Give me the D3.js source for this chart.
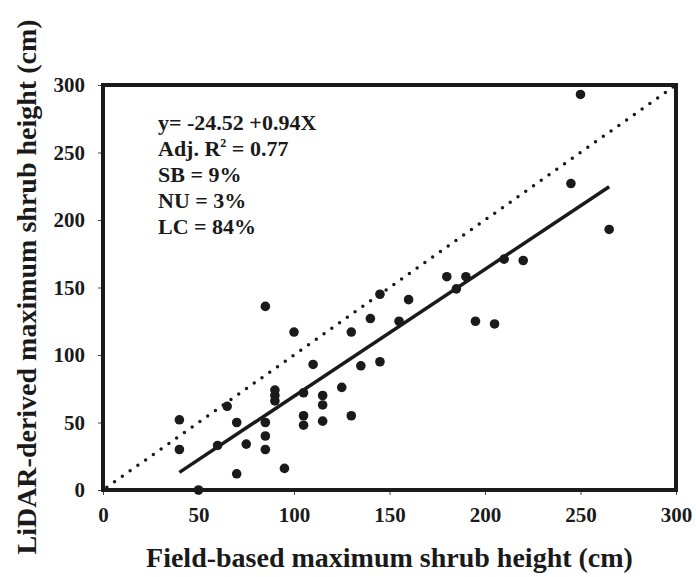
<!DOCTYPE html>
<html>
<head>
<meta charset="utf-8">
<script src="https://cdn.jsdelivr.net/npm/d3@7"></script>
<style>
  body { margin: 0; background: #fff; }
  text { font-family: "Liberation Serif", "DejaVu Serif", serif; font-weight: bold; fill: #1a1a1a; }
</style>
</head>
<body>
<svg id="chart"></svg>
<script>
// Field-based vs LiDAR-derived maximum shrub height (cm)
const fieldHeight = [50, 40, 40, 60, 65, 70, 70, 75, 85, 85, 85, 85, 90, 90, 90, 95,
  100, 105, 105, 105, 110, 115, 115, 115, 125, 130, 130, 135, 140, 145, 145,
  155, 160, 180, 185, 190, 195, 205, 210, 220, 245, 250, 265];
const lidarHeight = [0, 52, 30, 33, 62, 50, 12, 34, 136, 50, 40, 30, 74, 70, 66, 16,
  117, 72, 55, 48, 93, 70, 63, 51, 76, 117, 55, 92, 127, 145, 95,
  125, 141, 158, 149, 158, 125, 123, 171, 170, 227, 293, 193];

const xTicks = [0, 50, 100, 150, 200, 250, 300];
const yTicks = [0, 50, 100, 150, 200, 250, 300];

const fitIntercept = -24.52;
const fitSlope = 0.94;
const fitRange = [40, 265];

const statsLines = ["y= -24.52 +0.94X", "Adj. R|2| = 0.77", "SB = 9%", "NU = 3%", "LC = 84%"];

const W = 696, H = 577;
const margin = {left: 103, top: 85, right: 20, bottom: 87};
const iw = W - margin.left - margin.right;
const ih = H - margin.top - margin.bottom;

const svg = d3.select('#chart').attr('width', W).attr('height', H);
const g = svg.append('g').attr('transform', `translate(${margin.left},${margin.top})`);

const x = d3.scaleLinear().domain([0, 300]).range([0, iw]);
const y = d3.scaleLinear().domain([0, 300]).range([ih, 0]);

// axes
const xAxis = g.append('g')
    .attr('transform', `translate(0,${ih})`)
    .call(d3.axisBottom(x).tickValues(xTicks).tickSize(5).tickPadding(12));
const yAxis = g.append('g')
    .call(d3.axisLeft(y).tickValues(yTicks).tickSize(5).tickPadding(13));
[xAxis, yAxis].forEach(a => {
    a.select('.domain').remove();
    a.selectAll('.tick line').attr('stroke', '#444').attr('stroke-width', 1);
    a.selectAll('.tick text').style('font-size', '21px').attr('fill', '#1a1a1a');
});

// 1:1 line (dotted)
g.append('line')
    .attr('x1', x(2)).attr('y1', y(2))
    .attr('x2', x(300)).attr('y2', y(300))
    .attr('stroke', '#1a1a1a')
    .attr('stroke-width', 3.5)
    .attr('stroke-linecap', 'round')
    .attr('stroke-dasharray', '0,9.5');

// regression line
g.append('line')
    .attr('x1', x(fitRange[0])).attr('y1', y(fitIntercept + fitSlope * fitRange[0]))
    .attr('x2', x(fitRange[1])).attr('y2', y(fitIntercept + fitSlope * fitRange[1]))
    .attr('stroke', '#1a1a1a')
    .attr('stroke-width', 3.5);

// points
g.append('g')
    .selectAll('circle')
    .data(fieldHeight.map((d, i) => [d, lidarHeight[i]]))
    .enter()
    .append('circle')
    .attr('cx', d => x(d[0]))
    .attr('cy', d => y(d[1]))
    .attr('r', 4.8)
    .attr('fill', '#1a1a1a');

// frame
g.append('rect')
    .attr('width', iw).attr('height', ih)
    .attr('fill', 'none')
    .attr('stroke', '#1a1a1a')
    .attr('stroke-width', 4);

// stats text
const stats = g.append('g').attr('transform', 'translate(55,45)');
statsLines.forEach((s, i) => {
    const t = stats.append('text').attr('y', i * 26).style('font-size', '22px');
    const parts = s.split('|');
    t.append('tspan').text(parts[0]);
    if (parts.length > 1) {
        t.append('tspan').attr('dy', -9).style('font-size', '12px').text(parts[1]);
        t.append('tspan').attr('dy', 9).text(parts[2]);
    }
});

// axis titles
svg.append('text')
    .attr('x', margin.left + iw / 2)
    .attr('y', 567)
    .attr('text-anchor', 'middle')
    .style('font-size', '28px')
    .text('Field-based maximum shrub height (cm)');

svg.append('text')
    .attr('transform', `translate(36,287) rotate(-90)`)
    .attr('text-anchor', 'middle')
    .style('font-size', '28px')
    .text('LiDAR-derived maximum shrub height (cm)');
</script>
</body>
</html>
